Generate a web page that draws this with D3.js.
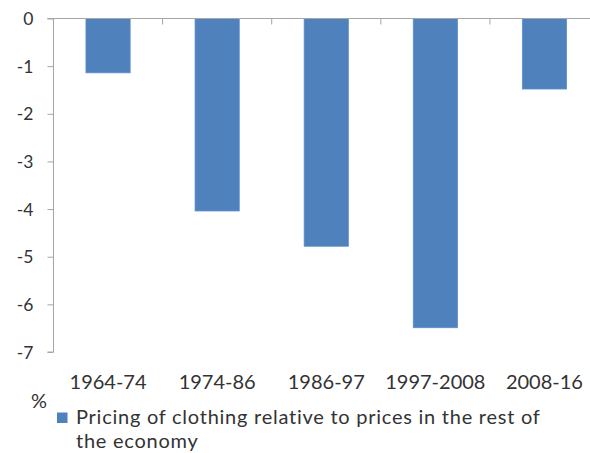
<!DOCTYPE html>
<html>
<head>
<meta charset="utf-8">
<script src="https://cdn.jsdelivr.net/npm/d3@7"></script>
<style>
html,body{margin:0;padding:0;background:#fff;}
svg{display:block;}
text{font-family:Lato,"Open Sans",sans-serif;fill:#333;}
</style>
</head>
<body>
<svg id="chart" width="590" height="453"></svg>
<script>
const categories = ["1964-74","1974-86","1986-97","1997-2008","2008-16"];
const values = [-1.14, -4.04, -4.78, -6.49, -1.48];
const yTicks = [0,-1,-2,-3,-4,-5,-6,-7];
const unitLabel = "%";
const legendLines = ["Pricing of clothing relative to prices in the rest of","the economy"];

const svg = d3.select("#chart");
const x0 = 53.5, x1 = 599, yTop = 18.5, yBot = 352;

const x = d3.scaleBand().domain(categories).range([x0, x1]).padding(0);
const y = d3.scaleLinear().domain([0, -7]).range([yTop, yBot]);
const barW = x.bandwidth() * 0.405;

// bars
svg.append("g").selectAll("rect").data(values).join("rect")
  .attr("x", (d,i) => x(categories[i]) + x.bandwidth()/2 - barW/2)
  .attr("y", y(0))
  .attr("width", barW)
  .attr("height", d => y(d) - y(0))
  .attr("fill", "#4F81BD")
  .attr("stroke", "#5B8DD0")
  .attr("stroke-width", 0.8);

// y axis
const yAxis = svg.append("g").attr("transform", `translate(${x0},0)`)
  .call(d3.axisLeft(y).tickValues(yTicks).tickSize(6).tickPadding(14).tickFormat(d => String(d)));
yAxis.select(".domain").attr("stroke", "#A6A6A6").attr("d", `M-6,${yTop}H0V${yBot}H-6`);
yAxis.selectAll(".tick line").attr("stroke", "#A6A6A6");
yAxis.selectAll(".tick text").attr("font-size", 17.5).attr("fill", "#333").attr("font-family", "Lato").attr("dy", "0.35em");

// x axis line at zero with category boundary ticks
const xAxis = svg.append("g").attr("transform", `translate(0,${y(0)})`)
  .call(d3.axisBottom(x).tickSize(0).tickFormat(""));
xAxis.select(".domain").attr("stroke", "#A6A6A6").attr("d", `M${x0-6},0H${x1}`);
xAxis.selectAll(".tick").remove();
xAxis.selectAll("line.bound").data(categories.slice(1)).join("line")
  .attr("class","bound")
  .attr("x1", d => x(d)).attr("x2", d => x(d))
  .attr("y1", 0).attr("y2", 6)
  .attr("stroke", "#A6A6A6");

// category labels
svg.append("g").selectAll("text").data(categories).join("text")
  .attr("x", d => x(d) + x.bandwidth()/2)
  .attr("y", 389)
  .attr("text-anchor", "middle")
  .attr("font-size", 20)
  .text(d => d);

// unit label
svg.append("text").attr("x", 31).attr("y", 408).attr("font-size", 20).text(unitLabel);

// legend
svg.append("rect").attr("x", 57).attr("y", 412.5).attr("width", 10.5).attr("height", 10.5).attr("fill", "#4F81BD");
svg.append("g").selectAll("text").data(legendLines).join("text")
  .attr("x", 76)
  .attr("y", (d,i) => 424 + i*24)
  .attr("font-size", 20)
  .attr("letter-spacing", 0.75)
  .text(d => d);
</script>
</body>
</html>
